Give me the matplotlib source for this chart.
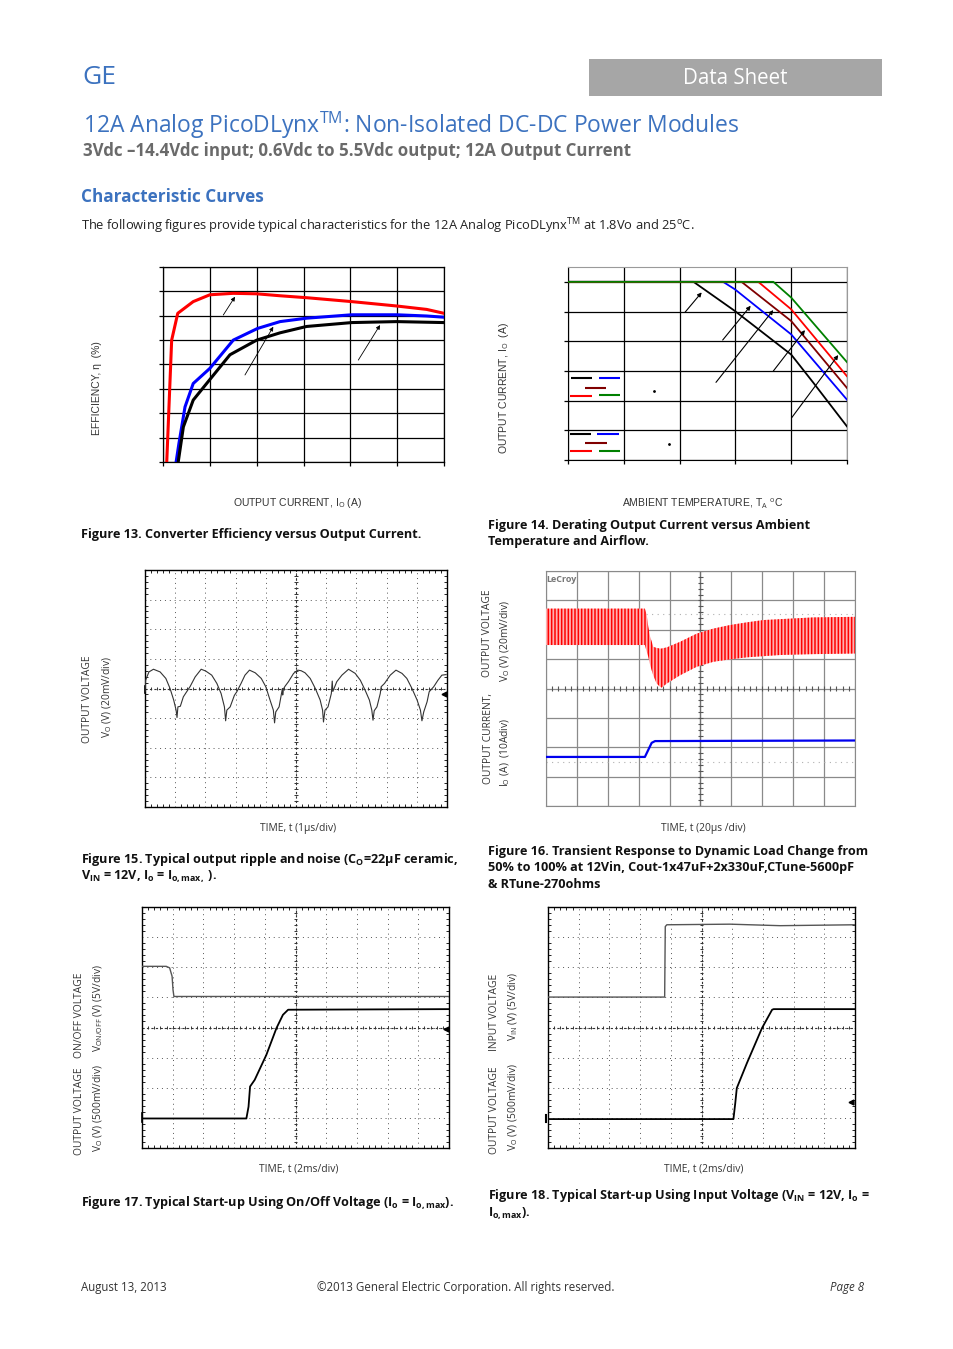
import numpy as np
import matplotlib.pyplot as plt
from matplotlib.patches import Rectangle

W, H = 954, 1349
GE_BLUE = '#3c72bf'

# ---- Figure 13: efficiency vs output current (A, %)
eff_red_x = [0.16, 0.37, 0.63, 1.29, 2.0, 3.0, 4.0, 5.0, 6.14, 8.06, 9.98, 11.26, 12.0]
eff_red_y = [55.0, 80.0, 85.5, 87.9, 89.3, 89.6, 89.5, 89.1, 88.7, 87.9, 87.0, 86.3, 85.5]
eff_blue_x = [0.56, 0.68, 0.94, 1.29, 2.0, 3.0, 4.04, 5.0, 6.13, 8.06, 9.98, 11.26, 12.0]
eff_blue_y = [55.0, 58.8, 66.3, 71.1, 74.2, 80.0, 82.4, 83.8, 84.5, 85.2, 85.2, 84.95, 84.7]
eff_black_x = [0.65, 0.87, 1.29, 1.93, 2.86, 4.0, 5.0, 6.13, 8.06, 9.98, 12.0]
eff_black_y = [55.0, 62.2, 67.7, 71.5, 77.0, 80.0, 81.5, 82.8, 83.6, 83.8, 83.6]
eff_arrows = [((2.575, 85.15), (3.075, 88.9)),
              ((3.50, 72.85), (4.71, 82.75)),
              ((8.34, 75.9), (9.27, 83.1))]

# ---- Figure 14: derating, output current (A) vs ambient temperature (C)
der_colors = ['black', '#0000ff', '#800000', '#ff0000', '#008000']
der_x = [[35, 57.5, 64.9, 75.0, 79.0, 85.0],
         [35, 62.8, 64.9, 75.0, 85.0],
         [35, 66.1, 75.0, 85.0],
         [35, 69.1, 75.0, 85.0],
         [35, 71.8, 75.0, 85.0]]
der_y = [[12, 12, 10.04, 7.1, 5.19, 2.26],
         [12, 12, 11.5, 8.46, 4.06],
         [12, 12, 9.36, 4.85],
         [12, 12, 10.15, 5.64],
         [12, 12, 10.94, 6.59]]
der_arrows = [((55.97, 9.95), (58.96, 11.29)),
              ((62.72, 8.08), (67.74, 10.39)),
              ((61.52, 5.23), (71.79, 10.10)),
              ((71.79, 5.99), (77.47, 8.75)),
              ((75.09, 2.85), (83.44, 7.07))]
leg_x0 = [35.54, 40.56, 37.96, 35.36, 40.56, 35.36, 40.27, 38.08, 35.36, 40.56]
leg_x1 = [39.30, 44.32, 41.81, 39.25, 44.32, 39.12, 44.14, 41.97, 39.25, 44.32]
leg_y = [5.50, 5.50, 4.87, 4.33, 4.40, 1.73, 1.73, 1.16, 0.63, 0.63]
leg_c = ['black', '#0000ff', '#800000', '#ff0000', '#008000'] * 2
leg_dots_x = [50.47, 53.10]
leg_dots_y = [4.67, 1.10]

# ---- Figure 15: output ripple (divisions)
ripple_t = [0, 0.02, 0.13, 0.28, 0.50, 0.69, 0.83, 0.95, 1.03, 1.06, 1.09, 1.17, 1.27, 1.36,
            1.49, 1.66, 1.86, 2.01, 2.21, 2.38, 2.52, 2.63, 2.67, 2.71, 2.82, 2.96, 3.04,
            3.18, 3.31, 3.46, 3.65, 3.85, 4.00, 4.14, 4.25, 4.29, 4.33, 4.44, 4.55, 4.56,
            4.58, 4.64, 4.75, 4.92, 5.06, 5.17, 5.30, 5.47, 5.64, 5.80, 5.88, 5.91, 5.96,
            6.06, 6.17, 6.20, 6.22, 6.35, 6.52, 6.74, 6.96, 7.13, 7.29, 7.43, 7.51, 7.55,
            7.59, 7.68, 7.79, 7.82, 7.93, 8.12, 8.31, 8.51, 8.67, 8.84, 9.01, 9.12, 9.17,
            9.23, 9.34, 9.41, 9.56, 9.70, 9.83, 9.97]
ripple_v = [-0.11, 0.28, 0.56, 0.65, 0.56, 0.34, 0.00, -0.39, -0.73, -0.98, -0.62, -0.60,
            -0.28, -0.14, 0.06, 0.39, 0.65, 0.59, 0.45, 0.17, -0.17, -0.62, -1.09, -0.73,
            -0.62, -0.23, -0.11, 0.17, 0.45, 0.62, 0.53, 0.34, 0.06, -0.39, -0.73, -1.16,
            -0.79, -0.62, 0.00, -0.22, -0.02, 0.08, 0.23, 0.51, 0.62, 0.60, 0.53, 0.34,
            0.00, -0.39, -0.73, -1.13, -0.73, -0.62, -0.17, 0.25, -0.10, 0.23, 0.45, 0.65,
            0.51, 0.28, -0.06, -0.39, -0.73, -1.07, -0.75, -0.62, -0.17, 0.06, 0.17, 0.45,
            0.62, 0.51, 0.34, 0.00, -0.39, -0.73, -1.09, -0.79, -0.45, -0.11, 0.06, 0.28,
            0.45, 0.47]

# ---- Figure 16: transient response (divisions), ripple band envelope
vo_env_t = [0, 3.20, 3.26, 3.31, 3.37, 3.42, 3.47, 3.58, 3.69, 3.74, 3.91, 4.34, 4.88,
            5.42, 5.95, 6.49, 7.03, 7.57, 8.65, 10.0]
vo_env_hi = [2.72, 2.72, 2.50, 2.10, 1.76, 1.60, 1.42, 1.38, 1.36, 1.36, 1.40, 1.59, 1.87,
             2.04, 2.16, 2.25, 2.33, 2.36, 2.42, 2.44]
vo_env_lo = [1.48, 1.48, 1.25, 1.08, 0.80, 0.62, 0.45, 0.17, 0.06, 0.03, 0.17, 0.45, 0.74,
             0.91, 0.99, 1.06, 1.10, 1.14, 1.17, 1.19]
io_t = [0, 3.20, 3.42, 3.53, 10.0]
io_v = [-2.33, -2.33, -1.85, -1.79, -1.77]

# ---- Figure 17: start-up using on/off (divisions)
onoff_t = [0, 0.79, 0.90, 0.98, 1.01, 1.04, 10]
onoff_v = [2.03, 2.03, 1.98, 1.70, 1.25, 1.03, 1.03]
vo17_t = [0, 3.40, 3.47, 3.52, 3.67, 4.05, 4.38, 4.59, 4.76, 10]
vo17_v = [-3.02, -3.02, -2.63, -1.96, -1.74, -0.91, -0.02, 0.42, 0.59, 0.61]

# ---- Figure 18: start-up using input voltage (divisions)
vin_t = [0, 3.80, 3.82, 3.87, 5.93, 7.56, 10]
vin_v = [1.01, 1.01, 3.35, 3.41, 3.43, 3.38, 3.41]
vo18_t = [0, 6.04, 6.10, 6.15, 6.48, 6.97, 7.30, 7.35, 10]
vo18_v = [-3.04, -3.04, -2.51, -2.01, -1.18, -0.02, 0.59, 0.61, 0.61]

plt.rcParams['font.family'] = ['Open Sans', 'DejaVu Sans']
plt.rcParams['mathtext.fontset'] = 'custom'
plt.rcParams['mathtext.rm'] = 'Open Sans'
plt.rcParams['mathtext.it'] = 'Open Sans:italic'
plt.rcParams['mathtext.bf'] = 'Open Sans:bold'
plt.rcParams['mathtext.default'] = 'regular'
plt.rcParams['hatch.linewidth'] = 1.1

fig = plt.figure(figsize=(W / 100, H / 100), dpi=100)


def page_axes(x0, y0, x1, y1):
    return fig.add_axes([x0 / W, 1 - y1 / H, (x1 - x0) / W, (y1 - y0) / H])


def ptext(x, y, s, **kw):
    kw.setdefault('va', 'center')
    fig.text(x / W, 1 - y / H, s, **kw)


def mask(ax, x0, y0, x1, y1):
    # white boxes left over from removed labels
    ax.add_patch(Rectangle((x0 / W, 1 - y1 / H), (x1 - x0) / W, (y1 - y0) / H,
                           transform=fig.transFigure, facecolor='white',
                           edgecolor='none', zorder=1.5))


def scope(ax, lecroy=False):
    ax.set_xlim(0, 10)
    ax.set_ylim(-4, 4)
    ax.set_xticks(range(11))
    ax.set_yticks(range(-4, 5))
    ax.set_xticks(np.arange(0, 10.01, 0.2), minor=True)
    ax.set_yticks(np.arange(-4, 4.01, 0.2), minor=True)
    ticks = np.arange(0, 10.01, 0.2)
    vticks = np.arange(-4, 4.01, 0.2)
    if lecroy:
        ax.grid(True, color='#8a8a8a', lw=0.9)
        for s in ax.spines.values():
            s.set_color('#8a8a8a')
        ax.tick_params(which='both', length=0, labelbottom=False, labelleft=False)
        ax.axvline(5, color='#707070', lw=0.9)
        ax.vlines(ticks, -0.07, 0.07, color='#555555', lw=0.8)
        ax.hlines(vticks, 4.93, 5.07, color='#555555', lw=0.8)
        ax.hlines([2.55, -2.5], 0, 10, color='#b0b0b0', lw=0.8, ls=(0, (1, 4)))
    else:
        ax.grid(True, color='#555555', lw=0.7, ls=(0, (1, 4)))
        for s in ax.spines.values():
            s.set_linewidth(1.0)
        ax.tick_params(which='major', length=0)
        ax.tick_params(which='minor', direction='in', length=2, width=0.6,
                       top=True, right=True)
        ax.tick_params(labelbottom=False, labelleft=False)
        ax.axhline(0, color='#333333', lw=0.8, ls=(0, (2, 2)))
        ax.axvline(5, color='#333333', lw=0.8, ls=(0, (2, 2)))
        ax.vlines(ticks, -0.06, 0.06, color='#333333', lw=0.7)
        ax.hlines(vticks, 4.94, 5.06, color='#333333', lw=0.7)


def main():
    # ---------------- header ----------------
    ptext(82, 78, 'GE', color=GE_BLUE, fontsize=19)
    fig.add_artist(Rectangle((589 / W, 1 - 96 / H), 293 / W, 37 / H,
                             transform=fig.transFigure, facecolor='#a6a6a6',
                             edgecolor='none'))
    ptext(735, 79, 'Data Sheet', color='white', fontsize=14.8, ha='center')
    ptext(83, 125, r'12A Analog PicoDLynx$^{\mathrm{TM}}$: Non-Isolated DC-DC Power Modules',
          color=GE_BLUE, fontsize=16.5)
    ptext(83, 151, '3Vdc \u201314.4Vdc input; 0.6Vdc to 5.5Vdc output; 12A Output Current',
          color='#6a6a6a', fontsize=12.2, fontweight='bold')
    ptext(81, 197, 'Characteristic Curves', color=GE_BLUE, fontsize=12.3, fontweight='bold')
    ptext(81, 226, 'The following figures provide typical characteristics for the 12A Analog '
          'PicoDLynx$^{\\mathrm{TM}}$ at 1.8Vo and 25$^{\\mathrm{o}}$C.',
          color='#222222', fontsize=9.3)

    # ---------------- Figure 13 ----------------
    ax = page_axes(163, 267, 444, 462)
    ax.set_xlim(0, 12)
    ax.set_ylim(55, 95)
    ax.set_xticks(np.arange(0, 12.1, 2))
    ax.set_yticks(np.arange(55, 95.1, 5))
    ax.grid(True, color='black', lw=0.9)
    ax.tick_params(direction='out', length=3, width=0.9, labelleft=False, labelbottom=False)
    for s in ax.spines.values():
        s.set_linewidth(0.9)
    for box in [(205, 318, 262, 330), (245, 318, 262, 377), (333, 363, 377, 377)]:
        mask(ax, *box)
    ax.plot(eff_red_x, eff_red_y, color='#ff0000', lw=2.2, zorder=3)
    ax.plot(eff_blue_x, eff_blue_y, color='#0000ff', lw=2.2, zorder=3)
    ax.plot(eff_black_x, eff_black_y, color='black', lw=2.2, zorder=3)
    for tail, head in eff_arrows:
        ax.annotate('', xy=head, xytext=tail,
                    arrowprops=dict(arrowstyle='-|>', color='black', lw=0.6,
                                    mutation_scale=6, shrinkA=0, shrinkB=0))
    lab = dict(family=['Liberation Sans', 'DejaVu Sans'], fontsize=7.5, color='#333333')
    ptext(97, 388, 'EFFICIENCY, \u03b7  (%)', rotation=90, ha='center', **lab)
    ptext(298, 503, r'OUTPUT CURRENT, I$_{\mathrm{O}}$ (A)', ha='center', **lab)

    # ---------------- Figure 14 ----------------
    ax = page_axes(568, 267, 847, 460)
    ax.set_xlim(35, 85)
    ax.set_ylim(0, 13)
    ax.set_xticks(np.arange(35, 85.1, 10))
    ax.set_yticks(np.arange(0, 12.1, 2))
    ax.grid(True, color='black', lw=0.9)
    ax.tick_params(direction='out', length=3, width=0.9, labelleft=False, labelbottom=False)
    for side in ['top', 'right']:
        ax.spines[side].set_color('#9a9a9a')
    for box in [(672, 338, 732, 356), (569, 372, 790, 400),
                (626, 424, 706, 436), (748, 424, 804, 436)]:
        mask(ax, *box)
    for xs, ys, c in zip(der_x, der_y, der_colors):
        ax.plot(xs, ys, color=c, lw=1.3, zorder=3)
    for tail, head in der_arrows:
        ax.annotate('', xy=head, xytext=tail,
                    arrowprops=dict(arrowstyle='-|>', color='black', lw=0.8,
                                    mutation_scale=6, shrinkA=0, shrinkB=0))
    ax.hlines(leg_y, leg_x0, leg_x1, colors=leg_c, lw=1.5, zorder=3)
    ax.plot(leg_dots_x, leg_dots_y, 'k.', ms=2, zorder=3)
    ptext(504, 388, r'OUTPUT CURRENT, I$_{\mathrm{O}}$  (A)', rotation=90, ha='center', **lab)
    ptext(703, 503, r'AMBIENT TEMPERATURE, T$_{\mathrm{A}}$ $^{\mathrm{o}}$C', ha='center', **lab)

    cap = dict(fontsize=9.1, fontweight='bold', color='#111111')
    ptext(81, 534, 'Figure 13. Converter Efficiency versus Output Current.', **cap)
    ptext(488, 525, 'Figure 14. Derating Output Current versus Ambient', **cap)
    ptext(488, 542, 'Temperature and Airflow.', **cap)

    slab = dict(fontsize=7.4, color='#333333')

    # ---------------- Figure 15 ----------------
    ax = page_axes(145, 570, 447, 807)
    scope(ax)
    ax.plot(ripple_t, ripple_v, color='#333333', lw=0.8, zorder=3)
    ax.plot([0, 0], [-0.15, 0.1], color='black', lw=1.2, clip_on=False)
    ax.plot([9.9], [-0.17], marker='<', color='black', ms=3.5)
    ptext(88, 699, 'OUTPUT VOLTAGE', rotation=90, ha='center', **slab)
    ptext(107, 697, r'V$_{\mathrm{O}}$ (V) (20mV/div)', rotation=90, ha='center', **slab)
    ptext(298, 828, 'TIME, t (1\u00b5s/div)', ha='center', **slab)

    # ---------------- Figure 16 ----------------
    ax = page_axes(546, 571, 855, 806)
    scope(ax, lecroy=True)
    ax.fill_between(vo_env_t, vo_env_lo, vo_env_hi, facecolor='#ffb0b0',
                    edgecolor='#ff0000', hatch='|||||', lw=0, zorder=3)
    ax.plot(io_t, io_v, color='#0000ee', lw=1.6, zorder=3)
    ax.text(0.02, 3.88, 'LeCroy', fontsize=6.5, fontweight='bold', color='#777777',
            va='top', ha='left')
    ptext(488, 633, 'OUTPUT VOLTAGE', rotation=90, ha='center', **slab)
    ptext(488, 738, 'OUTPUT CURRENT,', rotation=90, ha='center', **slab)
    ptext(505, 641, r'V$_{\mathrm{O}}$ (V) (20mV/div)', rotation=90, ha='center', **slab)
    ptext(505, 752, r'I$_{\mathrm{O}}$ (A)  (10Adiv)', rotation=90, ha='center', **slab)
    ptext(703, 828, 'TIME, t (20\u00b5s /div)', ha='center', **slab)

    ptext(81, 859, 'Figure 15. Typical output ripple and noise (C$_{\\mathbf{O}}$=22\u00b5F ceramic,', **cap)
    ptext(81, 876, r'V$_{\mathbf{IN}}$ = 12V, I$_{\mathbf{o}}$ = I$_{\mathbf{o,max,}}$ ).', **cap)
    ptext(488, 851, 'Figure 16. Transient Response to Dynamic Load Change from', **cap)
    ptext(488, 868, '50% to 100% at 12Vin, Cout-1x47uF+2x330uF,CTune-5600pF', **cap)
    ptext(488, 885, '& RTune-270ohms', **cap)

    # ---------------- Figure 17 ----------------
    ax = page_axes(142, 907, 449, 1148)
    scope(ax)
    ax.plot(onoff_t, onoff_v, color='#555555', lw=1.0, zorder=3)
    ax.plot(vo17_t, vo17_v, color='black', lw=1.3, zorder=3)
    ax.plot([0, 0], [-3.15, -2.85], color='black', lw=1.2, clip_on=False)
    ax.plot([9.9], [-0.06], marker='<', color='black', ms=3.5)
    ptext(80, 1015, 'ON/OFF VOLTAGE', rotation=90, ha='center', **slab)
    ptext(80, 1111, 'OUTPUT VOLTAGE', rotation=90, ha='center', **slab)
    ptext(98, 1008, r'V$_{\mathrm{ON/OFF}}$ (V) (5V/div)', rotation=90, ha='center', **slab)
    ptext(98, 1108, r'V$_{\mathrm{O}}$ (V) (500mV/div)', rotation=90, ha='center', **slab)
    ptext(299, 1169, 'TIME, t (2ms/div)', ha='center', **slab)

    # ---------------- Figure 18 ----------------
    ax = page_axes(548, 907, 855, 1148)
    scope(ax)
    ax.plot(vin_t, vin_v, color='#555555', lw=1.0, zorder=3)
    ax.plot(vo18_t, vo18_v, color='black', lw=1.3, zorder=3)
    ax.plot([-0.05, -0.05], [-3.15, -2.9], color='black', lw=1.5, clip_on=False)
    ax.plot([9.86], [-2.48], marker='<', color='black', ms=3.5)
    ptext(495, 1012, 'INPUT VOLTAGE', rotation=90, ha='center', **slab)
    ptext(495, 1110, 'OUTPUT VOLTAGE', rotation=90, ha='center', **slab)
    ptext(513, 1007, r'V$_{\mathrm{IN}}$ (V) (5V/div)', rotation=90, ha='center', **slab)
    ptext(513, 1107, r'V$_{\mathrm{O}}$ (V) (500mV/div)', rotation=90, ha='center', **slab)
    ptext(704, 1169, 'TIME, t (2ms/div)', ha='center', **slab)

    ptext(81, 1203, r'Figure 17. Typical Start-up Using On/Off Voltage (I$_{\mathbf{o}}$ = I$_{\mathbf{o,max}}$).', **cap)
    ptext(488, 1196, r'Figure 18. Typical Start-up Using Input Voltage (V$_{\mathbf{IN}}$ = 12V, I$_{\mathbf{o}}$ =', **cap)
    ptext(488, 1213, r'I$_{\mathbf{o,max}}$).', **cap)

    # ---------------- footer ----------------
    foot = dict(fontsize=8.3, color='#333333')
    ptext(81, 1287, 'August 13, 2013', **foot)
    ptext(466, 1287, '\u00a92013 General Electric Corporation. All rights reserved.', ha='center', **foot)
    ptext(864, 1287, 'Page 8', ha='right', style='italic', **foot)

    fig.savefig('out.png', dpi=100)


if __name__ == "__main__":
    main()
